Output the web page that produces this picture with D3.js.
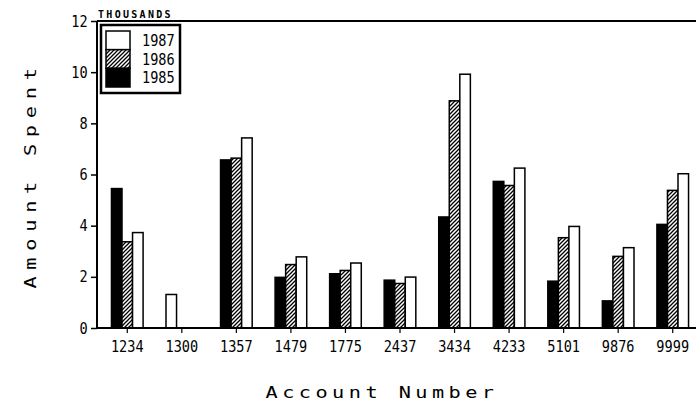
<!DOCTYPE html>
<html>
<head>
<meta charset="utf-8">
<script src="https://cdn.jsdelivr.net/npm/d3@7"></script>
<style>
  body { margin: 0; background: #fff; }
  text { font-family: "DejaVu Sans Mono", monospace; fill: #000; }
</style>
</head>
<body>
<svg id="chart" width="696" height="404"></svg>
<script>
// data (thousands)
const accounts = ["1234", "1300", "1357", "1479", "1775", "2437", "3434", "4233", "5101", "9876", "9999"];
const years = ["1985", "1986", "1987"];
const spent1985 = [5.45, 0, 6.57, 1.98, 2.12, 1.87, 4.34, 5.73, 1.83, 1.06, 4.05];
const spent1986 = [3.37, 0, 6.64, 2.48, 2.25, 1.74, 8.88, 5.57, 3.53, 2.80, 5.38];
const spent1987 = [3.73, 1.31, 7.43, 2.78, 2.54, 1.99, 9.92, 6.25, 3.97, 3.14, 6.03];
const yTicks = [0, 2, 4, 6, 8, 10, 12];

const series = {"1985": spent1985, "1986": spent1986, "1987": spent1987};
const fills = {"1985": "#000", "1986": "url(#hatch)", "1987": "#fff"};

let svg = d3.select("#chart");

//hatch pattern
let defs = svg.append("defs");
let pat = defs.append("pattern")
    .attr("id", "hatch")
    .attr("patternUnits", "userSpaceOnUse")
    .attr("width", 4).attr("height", 4);
pat.append("rect").attr("width", 4).attr("height", 4).attr("fill", "#fff");
pat.append("path")
    .attr("d", "M-1,1 l2,-2 M0,4 l4,-4 M3,5 l2,-2")
    .attr("stroke", "#000").attr("stroke-width", 1.3);

let plotLeft = 97, plotBottom = 328, plotTop = 21, plotRight = 700;
let narrow = 0.85;

//scales
let x0 = d3.scaleBand().domain(accounts).range([100, 700]).paddingInner(0.42).paddingOuter(0.21);
let x1 = d3.scaleBand().domain([0, 1, 2]).range([0, x0.bandwidth()]);
let y = d3.scaleLinear().domain([0, 12]).range([plotBottom, plotTop]);

//bars, zero values are skipped and the rest packed from the left
let bars = [];
accounts.forEach((a, i) => {
    let slot = 0;
    years.forEach(yr => {
        let v = series[yr][i];
        if (v > 0) { bars.push({account: a, year: yr, value: v, slot: slot}); slot++; }
    });
});

svg.append("g").selectAll("rect")
    .data(bars)
    .enter().append("rect")
    .attr("x", d => x0(d.account) + x1(d.slot))
    .attr("y", d => y(d.value))
    .attr("width", x1.bandwidth())
    .attr("height", d => y(0) - y(d.value))
    .attr("fill", d => fills[d.year])
    .attr("stroke", "#000")
    .attr("stroke-width", 1.5);

//frame lines
svg.append("line").attr("x1", plotLeft).attr("x2", plotLeft).attr("y1", plotTop).attr("y2", plotBottom)
    .attr("stroke", "#000").attr("stroke-width", 2);
svg.append("line").attr("x1", plotLeft).attr("x2", plotRight).attr("y1", plotBottom).attr("y2", plotBottom)
    .attr("stroke", "#000").attr("stroke-width", 2);
svg.append("line").attr("x1", plotLeft).attr("x2", plotRight).attr("y1", plotTop).attr("y2", plotTop)
    .attr("stroke", "#000").attr("stroke-width", 2);

//y axis
let ya = svg.append("g")
    .attr("transform", "translate(" + plotLeft + ",0)")
    .call(d3.axisLeft(y).tickValues(yTicks).tickSize(6).tickSizeOuter(0).tickPadding(5));
ya.select(".domain").remove();
ya.selectAll("line").attr("stroke-width", 1.5);
ya.selectAll("text").style("font-size", "16px").attr("fill", "#000")
    .attr("transform", "scale(" + narrow + ",1)");

//x axis
let xa = svg.append("g")
    .attr("transform", "translate(0," + plotBottom + ")")
    .call(d3.axisBottom(x0).tickSize(5).tickSizeOuter(0).tickPadding(8));
xa.select(".domain").remove();
xa.selectAll("line").attr("stroke-width", 1.2);
xa.selectAll("text").style("font-size", "16px").attr("fill", "#000")
    .attr("transform", "scale(" + narrow + ",1)");

//units note
svg.append("text")
    .attr("x", 98).attr("y", 18)
    .style("font-size", "10px")
    .style("font-weight", "bold")
    .style("letter-spacing", "2.3px")
    .text("THOUSANDS");

//legend
let lg = svg.append("g");
lg.append("rect")
    .attr("x", 101).attr("y", 25).attr("width", 79).attr("height", 68)
    .attr("fill", "#fff").attr("stroke", "#000").attr("stroke-width", 2.5);
let legendYears = years.slice().reverse();
let ly = d3.scaleBand().domain(legendYears).range([31, 87]);
lg.selectAll(".sw")
    .data(legendYears)
    .enter().append("rect")
    .attr("class", "sw")
    .attr("x", 106).attr("y", d => ly(d))
    .attr("width", 24).attr("height", ly.bandwidth())
    .attr("fill", d => fills[d])
    .attr("stroke", "#000").attr("stroke-width", 1.5);
lg.selectAll(".lt")
    .data(legendYears)
    .enter().append("text")
    .attr("class", "lt")
    .attr("transform", d => "translate(142," + (ly(d) + ly.bandwidth() / 2) + ") scale(" + narrow + ",1)")
    .attr("dy", "0.36em")
    .style("font-size", "16px")
    .text(d => d);

//axis titles, wide plotter lettering
svg.append("text")
    .attr("transform", "translate(382,398) scale(1.35,1)")
    .style("text-anchor", "middle")
    .style("font-size", "15px")
    .style("letter-spacing", "3.3px")
    .text("Account Number");

svg.append("text")
    .attr("transform", "translate(36,175) rotate(-90) scale(1.35,1)")
    .style("text-anchor", "middle")
    .style("font-size", "15px")
    .style("letter-spacing", "5px")
    .text("Amount Spent");
</script>
</body>
</html>
